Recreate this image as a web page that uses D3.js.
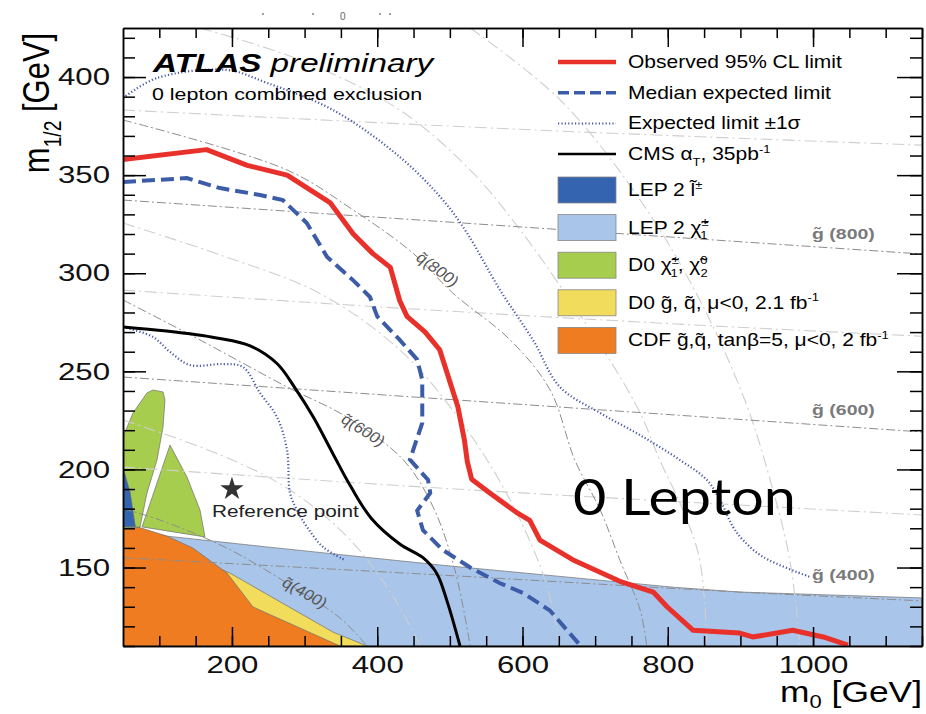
<!DOCTYPE html>
<html>
<head>
<meta charset="utf-8">
<script src="https://cdn.jsdelivr.net/npm/d3@7"></script>
<style>
  body { margin: 0; background: #fff; }
  svg { display: block; }
</style>
</head>
<body>
<svg id="chart" width="926" height="714"></svg>
<script>
// values are [m0, m1/2] in GeV
const observed = [[50,358],[165,363],[221,355],[276,350],[335,336],[367,320],[394,310],[418,303],[431,286],[441,278],[466,270],[486,261],[511,232],[520,215],[524,204],[530,195],[555,188],[592,178],[610,174],[624,164],[669,154],[734,143],[780,137.5],[799,130],[835,118],[899,116.6],[917,114.6],[972,118],[1014,114.6],[1048,110.5]]
const median = [[50,346.5],[138,348.5],[183.5,343.4],[238.6,339.9],[270,337.3],[303,325.6],[331,308.3],[366.6,296.5],[390,287.9],[400,278],[431,266],[455,256],[462,245.6],[462,223.7],[445,205],[470,194.6],[473,188],[455,179],[463,169],[490,159],[528,150],[569,142],[601,137],[638,128],[679,110.5]]
const upperSigma = [[50,389.3],[96.8,399.5],[193.2,403.6],[248.2,397],[339.1,383.2],[431.3,359.2],[490.5,337.3],[523.6,320.5],[569,291.5],[614.4,266],[651.6,242],[706.7,228.8],[761.8,217.5],[816.8,204.8],[854,194.6],[871.9,184.4],[889.8,170.7],[903.6,164],[931.1,155.4],[995.8,145.2]]
const lowerSigma = [[50,272.6],[91.3,267.5],[114.7,259.9],[142.2,253.2],[187.7,253.7],[215.2,252.2],[238.6,239],[262,226.7],[275.8,209.9],[279.9,188],[289.5,179.3],[303.3,170.7],[325.3,160.5],[355.6,153.8]]
const cms = [[50,272.6],[110,270.5],[179,267],[225,263],[262,254],[286,242],[312,226.7],[339,208],[364,191],[392,175],[431,162],[463,155],[482,147],[496,133],[514,110]]

// excluded regions of earlier experiments
const lepChargino = [[50,171],[110.6,166],[248,160.5],[486,151.3],[807,140],[899,137.5],[1150,134.5],[1150,110],[50,110]]
const d0Squark = [[50,110],[50,170],[197,147.2],[339,117.1],[386,110]]
const cdfSquark = [[50,110],[50,169.6],[71,170.6],[110.6,166],[146,160],[193.2,147.2],[229,129.9],[348.7,110]]
const d0ChargLeft = [[50,216.5],[63.8,228.8],[83,239],[91.3,240.5],[105.1,239.5],[107.8,235.4],[105.1,221.6],[96.8,204.8],[83,188],[73.4,170.7],[50,170.1]]
const d0ChargRight = [[114.7,212.4],[138.1,196.1],[156,179.3],[162.9,165.6],[76.2,170.7]]
const lepSlepton = [[50,201],[50,170.6],[67,170.8],[60,188]]

// iso-mass lines
const gluino800 = [[50,337.3],[1150,309.8]]
const gluino600 = [[50,247.1],[1150,219.1]]
const gluino400 = [[50,155],[486,146.2],[899,137.5],[1150,133]]
const gluino900 = [[50,383.2],[624,372.9],[1150,365.3]]
const gluino700 = [[50,291.4],[431,282.2],[844,273.5],[1150,267.9]]
const gluino500 = [[50,201.2],[486,190.5],[1150,176.8]]
const squark400 = [[50,180],[101,174.2],[193,159.9],[280,141.1],[349,124.2],[386,110]]
const squark600 = [[50,286.4],[156,266],[276,242],[358,226.7],[436,204.8],[477,180.8],[507,148.7],[528,110]]
const squark800 = [[50,378.1],[276,352.6],[367,332.2],[449,310.3],[504,289.9],[583,266],[638,240.5],[672,204.8],[707,179.3],[734,153.8],[762,128.3],[771,110]]
const squark500 = [[50,225.2],[184,207.4],[280,189.5],[363,164],[425,133.4],[459,110]]
const squark700 = [[50,325.6],[184,309.3],[320,289.9],[431,260.9],[514,225.2],[583,184.4],[631,143.6],[652,110]]
const squark900 = [[156,425],[294,408.7],[431,383.2],[528,352.6],[597,322],[665,286.4],[720,255.8],[762,228.8],[789,204.8],[821,179.3],[844,153.8],[854,110]]
const squark1000 = [[528,425],[652,388.3],[762,337.3],[844,286.4],[906,235.4],[941,194.6],[968,153.8],[982,110]]

const refPoint = [200, 190]

const xMajor = [200, 400, 600, 800, 1000]
const yMajor = [150, 200, 250, 300, 350, 400]
const gluinoLabels = [["g\u0303 (800)", 315], ["g\u0303 (600)", 225], ["g\u0303 (400)", 141]]
const squarkLabels = [["q\u0303(800)", 478, 300, 40], ["q\u0303(600)", 376, 218, 36], ["q\u0303(400)", 296, 135, 33]]

const legendLineLabels = [
    [["Observed 95% CL limit"]],
    [["Median expected limit"]],
    [["Expected limit \u00b11\u03c3"]],
    [["CMS \u03b1"], ["T", "sub"], [", 35pb"], ["-1", "sup"]]
]
const legendBoxLabels = [
    [["LEP 2 l\u0303"], ["\u00b1", "sup"]],
    [["LEP 2 \u03c7\u0303"], ["\u00b1", "sup"], ["1", "sub", -7]],
    [["D0 \u03c7\u0303"], ["\u00b1", "sup"], ["1", "sub", -7], [", \u03c7\u0303"], ["0", "sup"], ["2", "sub", -6]],
    [["D0 g\u0303, q\u0303, \u03bc<0, 2.1 fb"], ["-1", "sup"]],
    [["CDF g\u0303,q\u0303, tan\u03b2=5, \u03bc<0, 2 fb"], ["-1", "sup"]]
]

const FONT = "'Liberation Sans', Arial, Helvetica, sans-serif"
const lineStyles = [
    {stroke: "#e8312a", width: 4.5, dash: null},
    {stroke: "#3c5ca8", width: 3.5, dash: "11,5"},
    {stroke: "#4a58a8", width: 2, dash: "1.2,2.2"},
    {stroke: "#000", width: 2.5, dash: null}
]
const boxColors = ["#3463b0", "#a9c5e9", "#a7cd4f", "#f2dc5b", "#f07c22"]

const svg = d3.select("#chart")
const x = d3.scaleLinear().domain([50, 1150]).range([123, 922])
const y = d3.scaleLinear().domain([110, 425]).range([646, 28])

const line = d3.line().x(d => x(d[0])).y(d => y(d[1]))
const smooth = d3.line().x(d => x(d[0])).y(d => y(d[1])).curve(d3.curveCatmullRom.alpha(0.5))

// text with sup/sub parts, stretched sideways like the original picture
function richText(parent, px, py, parts, o) {
    const t = parent.append("text")
        .attr("transform", `translate(${px},${py}) scale(${o.sx || 1},1)` + (o.rotate ? ` rotate(${o.rotate})` : ""))
        .style("font-family", o.family || FONT)
        .style("font-size", o.size + "px")
        .attr("fill", o.fill || "#000")
    if (o.anchor) t.attr("text-anchor", o.anchor)
    if (o.weight) t.style("font-weight", o.weight)
    if (o.italic) t.style("font-style", "italic")
    const subShift = o.subShift || 0.32
    let shift = 0
    parts.forEach(p => {
        const kind = p[1] || ""
        const target = kind === "sup" ? -0.42 * o.size : kind === "sub" ? subShift * o.size : 0
        const ts = t.append("tspan").text(p[0]).attr("dy", target - shift)
        if (kind) ts.style("font-size", (o.size * 0.62) + "px")
        if (p[2]) ts.attr("dx", p[2])
        shift = target
    })
    return t
}

svg.append("rect").attr("width", 926).attr("height", 714).attr("fill", "#fff")

svg.append("defs").append("clipPath").attr("id", "plotClip")
    .append("rect").attr("x", 123).attr("y", 28).attr("width", 799).attr("height", 618)
const plot = svg.append("g").attr("clip-path", "url(#plotClip)")

// filled exclusions
const fills = [[lepChargino, boxColors[1]], [d0Squark, boxColors[3]], [cdfSquark, boxColors[4]],
    [d0ChargLeft, boxColors[2]], [d0ChargRight, boxColors[2]], [lepSlepton, boxColors[0]]]
fills.forEach(([pts, c]) => {
    plot.append("path").attr("d", line(pts) + "Z")
        .attr("fill", c).attr("stroke", "#6e6e6e").attr("stroke-width", 0.7)
})

// iso-mass lines
const lightIso = [gluino900, gluino700, gluino500, squark500, squark700, squark900, squark1000]
const darkIso = [gluino800, gluino600, gluino400, squark400, squark600, squark800]
lightIso.forEach(p => {
    plot.append("path").attr("d", smooth(p)).attr("fill", "none")
        .attr("stroke", "#cfcfcf").attr("stroke-width", 1.1).attr("stroke-dasharray", "12,4,2,4")
})
darkIso.forEach(p => {
    plot.append("path").attr("d", smooth(p)).attr("fill", "none")
        .attr("stroke", "#8d8d8d").attr("stroke-width", 1).attr("stroke-dasharray", "9,3,2,3")
})

// limit curves
;[upperSigma, lowerSigma].forEach(p => {
    plot.append("path").attr("d", smooth(p)).attr("fill", "none")
        .attr("stroke", lineStyles[2].stroke).attr("stroke-width", 2.2).attr("stroke-dasharray", lineStyles[2].dash)
})
plot.append("path").attr("d", smooth(cms)).attr("fill", "none")
    .attr("stroke", "#000").attr("stroke-width", 3)
plot.append("path").attr("d", line(median)).attr("fill", "none")
    .attr("stroke", lineStyles[1].stroke).attr("stroke-width", 4).attr("stroke-dasharray", "13,6")
plot.append("path").attr("d", line(observed)).attr("fill", "none")
    .attr("stroke", lineStyles[0].stroke).attr("stroke-width", 5).attr("stroke-linejoin", "round")

// labels on the iso lines
gluinoLabels.forEach(d => {
    richText(svg, 812, y(d[1]) - 5, [[d[0]]], {size: 15, sx: 1.3, weight: "bold", fill: "#7a7a7a"})
})
squarkLabels.forEach(d => {
    richText(svg, x(d[1]), y(d[2]), [[d[0]]], {size: 15, sx: 1.15, rotate: d[3], anchor: "middle", fill: "#555"})
})

// reference point
svg.append("path").attr("d", d3.symbol(d3.symbolStar, 170)())
    .attr("transform", `translate(${x(refPoint[0])},${y(refPoint[1])})`).attr("fill", "#333")
richText(svg, 212, 517, [["Reference point"]], {size: 16, sx: 1.3, fill: "#222"})

// titles in the frame
const atlas = svg.append("text").attr("transform", "translate(153,72) scale(1.33,1)")
    .style("font-family", FONT).style("font-size", "25px").style("font-style", "italic")
atlas.append("tspan").style("font-weight", "bold").text("ATLAS")
atlas.append("tspan").text(" preliminary")
richText(svg, 152, 100, [["0 lepton combined exclusion"]], {size: 17, sx: 1.26})
richText(svg, 573, 515, [["0 Lepton"]], {size: 50, sx: 1.15, family: "Lato, 'Open Sans', sans-serif"})

// legend
const lg = svg.append("g")
legendLineLabels.forEach((lab, i) => {
    const ly = 62 + i * 30.7
    const st = lineStyles[i]
    lg.append("line").attr("x1", 558).attr("x2", 616).attr("y1", ly).attr("y2", ly)
        .attr("stroke", st.stroke).attr("stroke-width", st.width).attr("stroke-dasharray", st.dash)
    richText(lg, 628, ly + 6, lab, {size: 17.5, sx: 1.2})
})
legendBoxLabels.forEach((lab, i) => {
    const cy = 190 + i * 37.6
    lg.append("rect").attr("x", 558).attr("y", cy - 13).attr("width", 58).attr("height", 26)
        .attr("fill", boxColors[i]).attr("stroke", "#888").attr("stroke-width", 0.8)
    richText(lg, 628, cy + 6, lab, {size: 17.5, sx: 1.2})
})

// frame and ticks (ticks point inwards)
function styleAxis(g) {
    g.selectAll("path,line").attr("stroke", "#000").attr("stroke-width", 1.5)
}
function styleLabels(g) {
    g.selectAll("text").attr("font-size", 24).attr("font-family", FONT).attr("fill", "#111")
        .attr("transform", "scale(1.3,1)")
}
const xMinor = d3.range(100, 1151, 50)
const yMinor = d3.range(110, 426, 10)

svg.append("g").attr("transform", "translate(0,646)")
    .call(d3.axisBottom(x).tickValues(xMinor).tickSize(-10).tickSizeOuter(0).tickFormat("")).call(styleAxis)
svg.append("g").attr("transform", "translate(0,646)")
    .call(d3.axisBottom(x).tickValues(xMajor).tickSize(-19).tickSizeOuter(0).tickPadding(10).tickFormat(d3.format("d")))
    .call(styleAxis).call(styleLabels)
svg.append("g").attr("transform", "translate(0,28)")
    .call(d3.axisTop(x).tickValues(xMinor).tickSize(-10).tickSizeOuter(0).tickFormat("")).call(styleAxis)
svg.append("g").attr("transform", "translate(0,28)")
    .call(d3.axisTop(x).tickValues(xMajor).tickSize(-19).tickSizeOuter(0).tickFormat("")).call(styleAxis)
svg.append("g").attr("transform", "translate(123,0)")
    .call(d3.axisLeft(y).tickValues(yMinor).tickSize(-12).tickSizeOuter(0).tickFormat("")).call(styleAxis)
svg.append("g").attr("transform", "translate(123,0)")
    .call(d3.axisLeft(y).tickValues(yMajor).tickSize(-23).tickSizeOuter(0).tickPadding(10).tickFormat(d3.format("d")))
    .call(styleAxis).call(styleLabels)
svg.append("g").attr("transform", "translate(922,0)")
    .call(d3.axisRight(y).tickValues(yMinor).tickSize(-12).tickSizeOuter(0).tickFormat("")).call(styleAxis)
svg.append("g").attr("transform", "translate(922,0)")
    .call(d3.axisRight(y).tickValues(yMajor).tickSize(-25).tickSizeOuter(0).tickFormat("")).call(styleAxis)

// axis titles
richText(svg, 922, 702, [["m"], ["0", "sub"], [" [GeV]"]], {size: 29, sx: 1.22, anchor: "end", subShift: 0.2})
svg.append("g").attr("transform", "translate(49,103) scale(1.2,1)")
    .call(g => richText(g, 0, 0, [["m"], ["1/2", "sub"], [" [GeV]"]], {size: 31, rotate: -90, anchor: "middle"}))

// cropped glyph bits above the frame
richText(svg, 340, 20, [["0"]], {size: 10, fill: "#666"})
;[263, 313, 380, 390].forEach(px => {
    svg.append("circle").attr("cx", px).attr("cy", 14).attr("r", 0.9).attr("fill", "#777")
})
</script>
</body>
</html>
